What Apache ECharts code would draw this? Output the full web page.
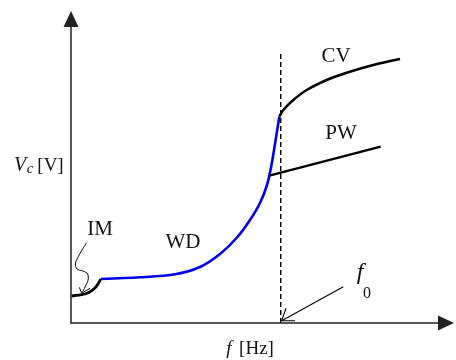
<!DOCTYPE html>
<html>
<head>
<meta charset="utf-8">
<script src="https://cdn.jsdelivr.net/npm/echarts@6/dist/echarts.min.js"></script>
<style>html,body{margin:0;padding:0;background:#fff}#c{width:456px;height:360px}</style>
</head>
<body>
<div id="c"></div>
<script>
// Schematic data (x = frequency units, y = voltage units; origin at axes corner)
var imCurve = [[0.7,27],[8,27.8],[14,29],[19,31.2],[24,35],[27.3,39.5],[29.7,44]];
var wdCurve = [[29.7,44],[69,45.7],[104,48.7],[129,56],[149,69],[166,85.5],[179,103],[189,120],[196,138],[200.3,157],[204.3,181],[208.3,206.3]];
var cvCurve = [[208.3,206.3],[212.3,213],[222.3,223],[235.7,233],[255.7,243],[275.7,250.3],[302.3,258],[329,264]];
var pwLine = [[198.3,147.3],[309.7,176.3]];
var f0Line = [[209.7,0],[209.7,271]];
var imPointer = [[15.7,80.3],[11,73],[7.3,66.3],[4.5,59],[6,54],[12,52],[16.7,49],[17.3,44.7],[14.5,37],[10.7,29.7]];
var imPointerHead = [[8.3,35.7],[10.7,29.7],[19,34.7]];
var f0Pointer = [[272.3,36.3],[210.7,2.3]];
var f0PointerHead = [[215,14.7],[210.7,2.3],[224,2.3]];
var labels = ['IM','WD','CV','PW'];

var chart = echarts.init(document.getElementById('c'), null, {renderer:'canvas'});
var serif = '"Liberation Serif","DejaVu Serif",serif';
function ln(data, color, width, opts) {
  var s = {type:'line', data:data, symbol:'none', silent:true, animation:false,
    lineStyle:{color:color, width:width}, z:3};
  if (opts) for (var k in opts) { if (k === 'lineType') s.lineStyle.type = opts[k]; else s[k] = opts[k]; }
  return s;
}
var font = function(sz, italic){ return (italic?'italic ':'') + sz + 'px ' + serif; };
function txt(t, x, y, sz, italic, align) {
  return {type:'text', x:x, y:y, silent:true, style:{text:t, font:font(sz, italic), fill:'#111', align:align||'center', verticalAlign:'middle'}};
}
chart.setOption({
  animation:false,
  grid:{left:71, top:19, width:375, height:304, containLabel:false},
  xAxis:{type:'value', min:0, max:375, axisLabel:{show:false}, axisTick:{show:false}, splitLine:{show:false},
    axisLine:{show:true, lineStyle:{color:'#222', width:1.5}, symbol:['none','triangle'], symbolSize:[15,16]}},
  yAxis:{type:'value', min:0, max:304, axisLabel:{show:false}, axisTick:{show:false}, splitLine:{show:false},
    axisLine:{show:true, lineStyle:{color:'#222', width:1.5}, symbol:['none','triangle'], symbolSize:[15,16]}},
  series:[
    ln(f0Line, '#000', 1.4, {lineType:[5,3]}),
    ln(wdCurve, '#0000ee', 2.6, {smooth:0.3}),
    ln(imCurve, '#000', 2.8, {smooth:0.3}),
    ln(cvCurve, '#000', 2.6, {smooth:0.3}),
    ln(pwLine, '#000', 2.4),
    ln(imPointer, '#000', 1, {smooth:0.4}),
    ln(imPointerHead, '#000', 1),
    ln(f0Pointer, '#000', 1.1),
    ln(f0PointerHead, '#000', 1.1)
  ],
  graphic:[
    txt(labels[0], 100, 229, 21),
    txt(labels[1], 183, 242, 21),
    txt(labels[2], 336, 56, 21),
    txt(labels[3], 341, 133, 21),
    txt('f', 360, 273, 24, true),
    txt('0', 367, 294, 16),
    txt('V', 20, 166, 20, true),
    txt('c', 30, 169, 15, true),
    txt('[V]', 50.5, 166, 19),
    txt('f', 229, 349, 19, true),
    txt('[Hz]', 256.5, 349, 19)
  ]
});
</script>
</body>
</html>
